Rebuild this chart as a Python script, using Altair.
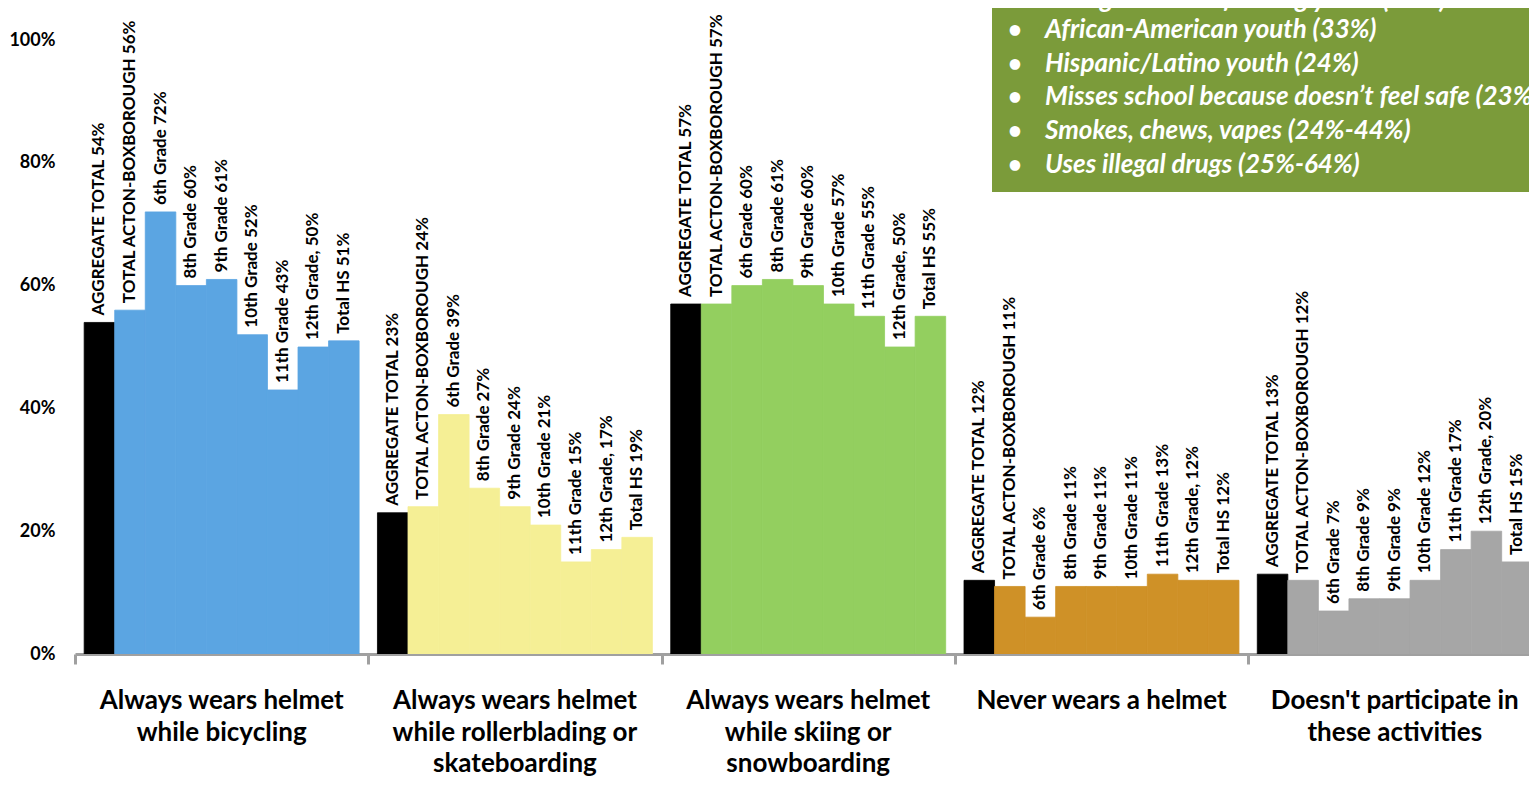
import altair as alt
import pandas as pd

# ---------------- data ----------------
categories = [
    "Always wears helmet\nwhile bicycling",
    "Always wears helmet\nwhile rollerblading or\nskateboarding",
    "Always wears helmet\nwhile skiing or\nsnowboarding",
    "Never wears a helmet",
    "Doesn't participate in\nthese activities",
]
subgroups = [
    "AGGREGATE TOTAL",
    "TOTAL ACTON-BOXBOROUGH",
    "6th Grade",
    "8th Grade",
    "9th Grade",
    "10th Grade",
    "11th Grade",
    "12th Grade,",
    "Total HS",
]
bicycling = [54, 56, 72, 60, 61, 52, 43, 50, 51]
rollerblading = [23, 24, 39, 27, 24, 21, 15, 17, 19]
skiing = [57, 57, 60, 61, 60, 57, 55, 50, 55]
never = [12, 11, 6, 11, 11, 11, 13, 12, 12]
no_participation = [13, 12, 7, 9, 9, 12, 17, 20, 15]
series_values = [bicycling, rollerblading, skiing, never, no_participation]

y_ticks = [0, 0.2, 0.4, 0.6, 0.8, 1.0]

box_title_line = "Non-gender-conforming youth (33%)"
box_lines = [
    "African-American youth (33%)",
    "Hispanic/Latino youth (24%)",
    "Misses school because doesn\u2019t feel safe (23%)",
    "Smokes, chews, vapes (24%-44%)",
    "Uses illegal drugs (25%-64%)",
]

# ---------------- styles / layout ----------------
group_keys = ["bike", "roller", "ski", "never", "none"]
palette = ["#000000", "#5BA5E2", "#F5EF95", "#93CF5F", "#CF9127", "#A6A6A6"]
FONT = "Lato"
PLOT_W, PLOT_H = 1454, 614
BAR_PX = 30.55
GAP = 0.6
GROUP = 9 + GAP
XMAX = PLOT_W / BAR_PX

rows = []
for gi, (cat, vals) in enumerate(zip(categories, series_values)):
    for j, (sub, v) in enumerate(zip(subgroups, vals)):
        x0 = gi * GROUP + GAP / 2 + j
        rows.append({
            "x0": x0, "x1": x0 + 1, "xc": x0 + 0.5,
            "value": v / 100,
            "label": f"{sub} {v}%",
            "series": "agg" if j == 0 else group_keys[gi],
        })
df = pd.DataFrame(rows)

cat_df = pd.DataFrame({
    "xc": [gi * GROUP + GROUP / 2 for gi in range(len(categories))],
    "cat": categories,
})

xscale = alt.Scale(domain=[0, XMAX], nice=False, zero=False)
yscale = alt.Scale(domain=[0, 1], nice=False)
cscale = alt.Scale(domain=["agg"] + group_keys, range=palette)

bars = alt.Chart(df).mark_rect(clip=True, strokeWidth=0.8).encode(
    x=alt.X("x0:Q", scale=xscale,
            axis=alt.Axis(values=[gi * GROUP for gi in range(6)], labels=False,
                          title=None, grid=False, domainColor="#A0A0A0",
                          domainWidth=3, tickColor="#A0A0A0", tickWidth=3,
                          tickSize=10)),
    x2="x1:Q",
    y=alt.Y("value:Q", scale=yscale,
            axis=alt.Axis(values=y_ticks, format=".0%", title=None, grid=False,
                          domain=False, ticks=False, tickSize=0, labelPadding=20,
                          labelFont=FONT, labelFontSize=18, labelFontWeight="bold",
                          labelColor="#000000")),
    y2=alt.Y2(datum=0),
    color=alt.Color("series:N", legend=None, scale=cscale),
    stroke=alt.Stroke("series:N", legend=None, scale=cscale),
)

labels = alt.Chart(df).mark_text(
    angle=270, align="left", baseline="middle", dx=7,
    font=FONT, fontSize=17, fontWeight="bold", color="#000000",
).encode(
    x=alt.X("xc:Q", scale=xscale),
    y=alt.Y("value:Q", scale=yscale),
    text="label:N",
)

cat_labels = alt.Chart(cat_df).mark_text(
    align="center", baseline="alphabetic", lineBreak="\n", lineHeight=31.5,
    font=FONT, fontSize=26, fontWeight="bold", color="#000000",
).encode(
    x=alt.X("xc:Q", scale=xscale),
    y=alt.value(669),
    text="cat:N",
)

one = pd.DataFrame({"k": [0]})

box = alt.Chart(one).mark_rect(color="#7B9B3A").encode(
    x=alt.value(917), x2=alt.value(1520),
    y=alt.value(-80), y2=alt.value(152),
)

title_bullet = alt.Chart(one).mark_text(
    text="\u2022", align="center", baseline="alphabetic",
    font=FONT, fontSize=24, fontWeight="bold", color="#FFFFFF",
).encode(x=alt.value(940), y=alt.value(-32))

title_line = alt.Chart(one).mark_text(
    text=box_title_line, align="left", baseline="alphabetic",
    font=FONT, fontSize=26, fontWeight="bold", fontStyle="italic", color="#FFFFFF",
).encode(x=alt.value(970), y=alt.value(-32))

bullets = alt.Chart(one).mark_text(
    text=["\u2022"] * len(box_lines), align="center", baseline="alphabetic",
    lineHeight=33.7, font=FONT, fontSize=24, fontWeight="bold", color="#FFFFFF",
).encode(x=alt.value(940), y=alt.value(-2))

box_text = alt.Chart(one).mark_text(
    text=box_lines, align="left", baseline="alphabetic",
    lineHeight=33.7, font=FONT, fontSize=26, fontWeight="bold",
    fontStyle="italic", color="#FFFFFF",
).encode(x=alt.value(970), y=alt.value(-2))

chart = alt.layer(bars, labels, cat_labels, box, title_bullet, title_line,
                  bullets, box_text).properties(
    width=PLOT_W, height=PLOT_H,
    autosize=alt.AutoSizeParams(type="none"),
    padding={"left": 67, "top": 32, "right": 0, "bottom": 124},
).configure_view(stroke=None)

chart.save("out.html", embed_options={"renderer": "svg", "actions": False})
